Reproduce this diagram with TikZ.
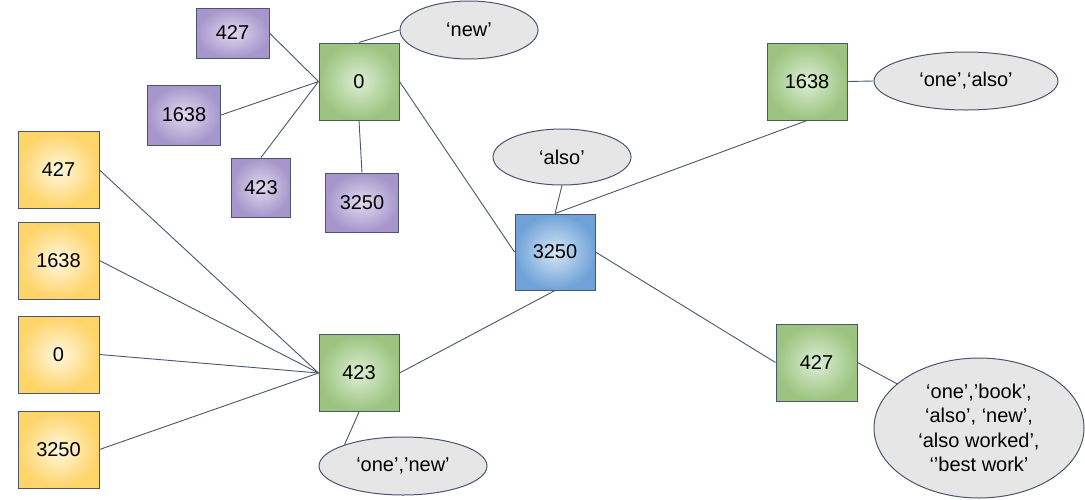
\documentclass[tikz,border=0pt]{standalone}
\usepackage{fontspec}
\setmainfont{Liberation Sans}
\usetikzlibrary{shapes.geometric}
\definecolor{edgec}{RGB}{72,86,110}
\definecolor{pin}{RGB}{224,218,238}
\definecolor{pout}{RGB}{166,150,204}
\definecolor{gin}{RGB}{220,238,212}
\definecolor{gout}{RGB}{156,196,128}
\definecolor{yin}{RGB}{255,247,222}
\definecolor{yout}{RGB}{255,212,104}
\definecolor{bin}{RGB}{214,230,246}
\definecolor{bout}{RGB}{112,162,216}
\definecolor{ellfill}{RGB}{230,230,230}
\tikzset{
  box/.style={draw=edgec, line width=1pt, inner sep=0pt, font=\fontsize{20}{24}\selectfont},
  pbox/.style={box, shading=radial, inner color=pin, outer color=pout},
  gbox/.style={box, shading=radial, inner color=gin, outer color=gout, minimum width=80pt, minimum height=77pt},
  ybox/.style={box, shading=radial, inner color=yin, outer color=yout, minimum width=81pt, minimum height=77pt},
  bluebox/.style={box, shading=radial, inner color=bin, outer color=bout, minimum width=80pt, minimum height=76pt},
  ell/.style={ellipse, draw=edgec, line width=1pt, fill=ellfill, inner sep=0pt, align=center, font=\fontsize{20}{24.4}\selectfont},
  conn/.style={draw=edgec, line width=0.9pt}
}
\begin{document}
\begin{tikzpicture}[x=1pt,y=-1pt]
\useasboundingbox (0,0) rectangle (1085,499);
% purple
\node[pbox, minimum width=73pt, minimum height=50pt] (p427) at (232.5,33) {427};
\node[pbox, minimum width=73pt, minimum height=60pt] (p1638) at (184,115) {1638};
\node[pbox, minimum width=59pt, minimum height=59pt] (p423) at (261,187.5) {423};
\node[pbox, minimum width=73pt, minimum height=59pt] (p3250) at (362,202.5) {3250};
% green
\node[gbox] (g0) at (359,81.5) {0};
\node[gbox] (g1638) at (807,81.5) {1638};
\node[gbox, minimum width=81pt] (g427) at (816.5,362.5) {427};
\node[gbox] (g423) at (359,373) {423};
% blue
\node[bluebox] (b3250) at (555,252) {3250};
% yellow
\node[ybox] (y427) at (58.5,170) {427};
\node[ybox] (y1638) at (58.5,260.5) {1638};
\node[ybox] (y0) at (58.5,354.5) {0};
\node[ybox] (y3250) at (58.5,449.5) {3250};
% ellipses
\node[ell, minimum width=138pt, minimum height=58pt] (enew) at (469,30) {‘new’};
\node[ell, minimum width=138pt, minimum height=56pt] (ealso) at (562,157) {‘also’};
\node[ell, minimum width=184pt, minimum height=58pt] (eoa) at (966,81) {‘one’,‘also’};
\node[ell, minimum width=168pt, minimum height=58pt] (eon) at (403,466) {‘one’,’new’};
\node[ell, minimum width=210pt, minimum height=140pt] (ebig) at (979,428) {‘one’,’book’,\\‘also’, ‘new’,\\‘also worked’,\\‘’best work’};
% connectors
\draw[conn] (p427.east) -- (g0.west);
\draw[conn] (p1638.east) -- (g0.west);
\draw[conn] (p423.north) -- (g0.west);
\draw[conn] (p3250.north) -- (g0.south);
\draw[conn] (g0.north) -- (enew.west);
\draw[conn] (g0.east) -- (b3250.west);
\draw[conn] (ealso.south) -- (b3250.north);
\draw[conn] (g1638.south) -- (b3250.north);
\draw[conn] (g1638.east) -- (eoa.west);
\draw[conn] (b3250.east) -- (g427.west);
\draw[conn] (g427.east) -- (ebig);
\draw[conn] (b3250.south) -- (g423.east);
\draw[conn] (g423.south) -- (eon.160);
\draw[conn] (y427.east) -- (g423.west);
\draw[conn] (y1638.east) -- (g423.west);
\draw[conn] (y0.east) -- (g423.west);
\draw[conn] (y3250.east) -- (g423.west);
\end{tikzpicture}
\end{document}
